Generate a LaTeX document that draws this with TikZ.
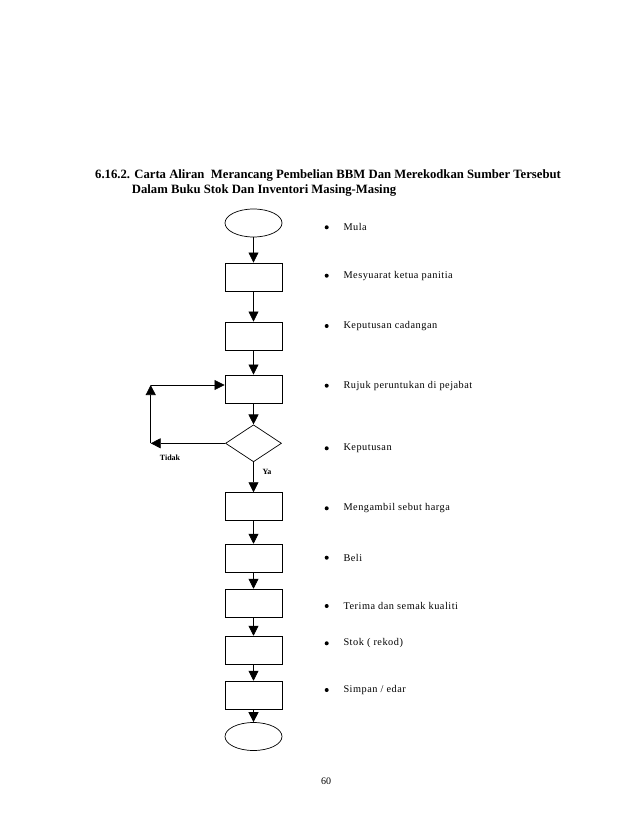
\documentclass[tikz,border=0pt]{standalone}
\usepackage{fontspec}
\setmainfont{Liberation Serif}
\newfontfamily\itemfont[LetterSpace=5]{Liberation Serif}
\usetikzlibrary{shapes.geometric,arrows.meta}
\begin{document}
\begin{tikzpicture}[x=1pt,y=-1pt,
  box/.style={draw,line width=0.9pt,minimum width=57pt,minimum height=28pt,inner sep=0pt},
  oval/.style={draw,ellipse,line width=0.7pt,minimum width=57pt,minimum height=28pt,inner sep=0pt},
  dia/.style={draw,diamond,line width=0.7pt,minimum width=56pt,minimum height=37pt,inner sep=0pt},
  arr/.style={line width=0.7pt,-{Triangle[width=10pt,length=10pt]}},
  item/.style={anchor=west,font=\itemfont\fontsize{10.3pt}{12pt}\selectfont,inner sep=0pt},
  dot/.style={circle,fill,inner sep=0pt,minimum size=4pt},
  lbl/.style={font=\fontsize{8pt}{10pt}\selectfont\bfseries,inner sep=0pt}]
\useasboundingbox (0,0) rectangle (638,826);
\fill[white] (0,0) rectangle (638,826);
% title
\node[anchor=west,inner sep=0pt,font=\fontsize{12.7pt}{15pt}\selectfont\bfseries] (t1) at (95,175) {6.16.2. Carta Aliran\ \ Merancang Pembelian BBM Dan Merekodkan Sumber Tersebut};
\node[anchor=west,inner sep=0pt,font=\fontsize{12.7pt}{15pt}\selectfont\bfseries] (t2) at (131.7,190.7) {Dalam Buku Stok Dan Inventori Masing-Masing};
% flow
\node[oval] (s) at (253.5,223) {};
\node[box] (b1) at (253.5,277) {};
\node[box] (b2) at (253.5,336) {};
\node[box] (b3) at (253.5,389) {};
\node[dia] (d) at (253.5,443.3) {};
\node[box] (b4) at (253.5,506.7) {};
\node[box] (b5) at (253.5,558.2) {};
\node[box] (b6) at (253.5,603.2) {};
\node[box] (b7) at (253.5,650.2) {};
\node[box] (b8) at (253.5,695.2) {};
\node[oval] (e) at (253.5,736.5) {};
\draw[arr] (s) -- (b1);
\draw[arr] (b1) -- (b2);
\draw[arr] (b2) -- (b3);
\draw[arr] (b3) -- (d);
\draw[arr] (d) -- (b4);
\draw[arr] (b4) -- (b5);
\draw[arr] (b5) -- (b6);
\draw[arr] (b6) -- (b7);
\draw[arr] (b7) -- (b8);
\draw[arr] (b8) -- (e);
% loop
\coordinate (l1) at (150.7,443.3);
\coordinate (l2) at (150.7,385);
\draw[arr] (d.west) -- (l1);
\draw[arr] (l1) -- (l2);
\draw[arr] (l2) -- (l2 -| b3.west);
\node[lbl] (tidak) at (170,458) {Tidak};
\node[lbl] (ya) at (267,472) {Ya};
% items
\foreach \n/\y/\t in {i1/227.3/{Mula}, i2/275.7/{Mesyuarat ketua panitia}, i3/326/{Keputusan cadangan}, i4/385.7/{Rujuk peruntukan di pejabat}, i5/448.3/{Keputusan}, i6/508.3/{Mengambil sebut harga}, i7/557.7/{Beli}, i8/606/{Terima dan semak kualiti}, i9/643.3/{Stok ( rekod)}, i10/690/{Simpan {/} edar}}{
  \node[dot] (\n d) at (326.7,\y) {};
  \node[item] (\n) at (343.3,\y) {\t};
}
\node[inner sep=0pt,font=\fontsize{10pt}{12pt}\selectfont] (pg) at (326,781.5) {60};
\end{tikzpicture}
\end{document}
